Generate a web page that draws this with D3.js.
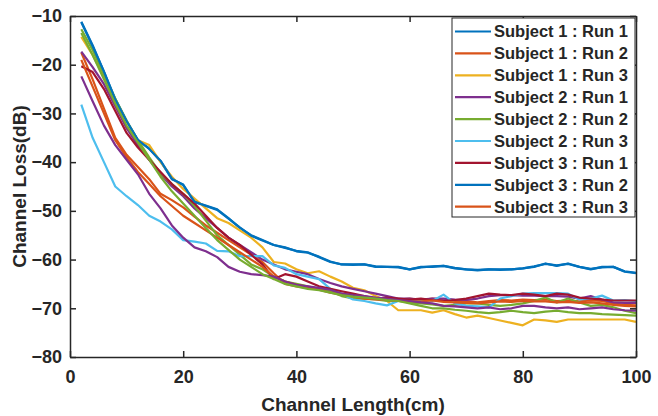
<!DOCTYPE html>
<html>
<head>
<meta charset="utf-8">
<script src="https://cdn.jsdelivr.net/npm/d3@7"></script>
<style>
  body { margin: 0; background: #fff; }
  svg { display: block; }
  text { font-family: "Liberation Sans", Arial, sans-serif; font-weight: bold; fill: #262626; }
</style>
</head>
<body>
<script>
// channel length (cm), sampled every 2 cm
var lengths = d3.range(2, 101, 2);

var xTicks = [0, 20, 40, 60, 80, 100],
    yTicks = [-10, -20, -30, -40, -50, -60, -70, -80];

// loss in dB
var s1r1 = [-11.2,-16,-21.5,-27,-31.5,-35.5,-37.2,-39.8,-43.5,-44.6,
            -48.2,-48.9,-49.7,-51.5,-53.5,-55,-56,-57,-57.6,-58.2,
            -58.5,-59.5,-60.5,-61,-61,-61,-61.5,-61.5,-61.5,-62,
            -61.5,-61.5,-61.3,-61.8,-62,-62.2,-62,-62,-62,-61.8,
            -61.5,-60.8,-61.3,-60.8,-61.5,-62,-61.5,-61.5,-62.5,-62.8];
var s1r2 = [-17.5,-23,-29,-35,-38.5,-41,-43.5,-46.5,-47.8,-49.3,
            -51.2,-53,-54.5,-56,-57.5,-59,-60.5,-62.8,-65,-65.5,
            -65.8,-66,-66.5,-67,-67.3,-67.8,-68,-68,-68.2,-68,
            -68.3,-68,-68.3,-68.5,-68.5,-68.8,-68.5,-68.3,-68.4,-68.2,
            -68.3,-68.2,-68.5,-68.4,-68.6,-68.4,-68.5,-69,-69.3,-69.4];
var s1r3 = [-14.3,-18,-22.5,-27.5,-33,-35.5,-36.5,-40,-43,-45.5,
            -47.5,-49.5,-51.5,-52.5,-54,-55.5,-57.5,-60.5,-60.8,-62,
            -62.8,-62.4,-63.5,-64.5,-65.8,-66.3,-67.5,-68.5,-70.4,-70.4,
            -70.4,-70.9,-70.4,-71.2,-71.9,-71.5,-72,-72.5,-73,-73.5,
            -72.3,-72.5,-72.8,-72.3,-72.3,-72.3,-72.3,-72.3,-72.3,-72.8];
var s2r1 = [-17.3,-20.5,-24,-28.5,-33,-36.5,-39.5,-42.5,-45,-47,
            -49.5,-51.5,-53.5,-55.5,-57,-58.5,-60,-61,-62,-62.5,
            -63,-64,-64.8,-65.5,-66,-66.5,-67,-67.5,-68,-68,
            -68.2,-68,-68,-68.2,-68.3,-68,-67.5,-67.3,-67.3,-67.4,
            -67.4,-67.5,-67.5,-67.6,-68,-67.5,-68.2,-68.8,-68.9,-68.9];
var s2r2 = [-12.7,-17,-22,-27,-31.5,-35.5,-39,-42.3,-44.5,-46.5,
            -49,-52,-55,-57,-59,-61,-62,-63.5,-64.5,-65,
            -65.5,-66,-66.5,-67.5,-68,-68,-68.2,-68.5,-68.5,-68.8,
            -69,-69.2,-69.5,-69.3,-69,-69,-69.3,-69.5,-69.3,-69,
            -68.5,-67.8,-68.8,-68,-68.8,-69.5,-69.3,-69.8,-70.5,-71];
var s2r3 = [-28.2,-35,-40,-45,-47,-48.8,-51,-52.2,-53.8,-56,
            -56.3,-56.7,-58.2,-58.3,-59.3,-59.3,-59.3,-61.2,-61.7,-63,
            -63.5,-64,-66,-67,-68.2,-68.5,-69,-69.4,-68.5,-68.3,
            -68.3,-68.5,-67.2,-69,-69.5,-69.6,-69.8,-68,-67.5,-67,
            -66.9,-66.9,-66.9,-67,-68.2,-68,-67.4,-68.4,-68.3,-68.5];
var s3r1 = [-20.3,-21.5,-25,-29.5,-34,-37,-39.5,-42,-44.5,-46.5,
            -48.5,-51,-53.5,-55.5,-57,-59,-61,-64,-63,-63.5,
            -64.5,-65.5,-66,-66.5,-67,-67.5,-68,-67.8,-68,-68.2,
            -68,-68.3,-68.5,-68.3,-68,-67.5,-67,-67.2,-67.3,-67,
            -67.2,-67.5,-67,-67.2,-67.8,-68,-68.2,-68.4,-68.4,-68.4];
var s3r2 = [-11.3,-16.2,-21.4,-27.2,-31.6,-35.4,-37.3,-39.7,-43.4,-44.7,
            -48.1,-49,-49.8,-51.6,-53.4,-55.1,-56.1,-57,-57.5,-58.3,
            -58.6,-59.4,-60.4,-61,-61.1,-61,-61.4,-61.5,-61.6,-62,
            -61.6,-61.4,-61.3,-61.7,-62,-62.1,-62,-62.1,-62,-61.8,
            -61.4,-60.9,-61.2,-60.9,-61.5,-61.9,-61.6,-61.5,-62.4,-62.7];
var s3r3 = [-19,-24.5,-30,-35.5,-39,-42,-44.5,-47,-49,-51,
            -52.5,-54,-55.5,-57,-58.5,-60,-61.5,-63.5,-64.5,-65.2,
            -65.6,-66.2,-66.8,-67.2,-67.6,-68,-68.2,-68.3,-68.5,-68.5,
            -68.6,-68.4,-68.7,-68.8,-68.9,-69,-68.8,-68.6,-68.7,-68.5,
            -68.6,-68.6,-68.8,-68.7,-68.9,-68.8,-69,-69.3,-69.5,-69.6];
// two further traces that carry no legend entry
var extraA = [-22.4,-27.5,-32.5,-36.5,-39.5,-42.5,-46.5,-49.5,-53,-55.5,
              -57.5,-58.3,-59.5,-61.5,-62.5,-63,-63.2,-63.5,-64.5,-65.2,
              -65.5,-65.8,-66.2,-67,-67.3,-67.5,-67.8,-68,-68.3,-68.5,
              -68.8,-69,-69.5,-69.6,-69.8,-70,-69.8,-70.2,-70,-69.5,
              -69.5,-69.8,-70,-69.8,-70.2,-70,-69.8,-70.2,-70.4,-70.5];
var extraB = [-13.5,-18,-23,-28,-32.5,-36,-39.5,-43,-46,-48.5,
              -51,-53.5,-56,-58,-60,-61.5,-63,-64,-65,-65.5,
              -66,-66.3,-66.8,-67.3,-67.6,-67.8,-68,-68.3,-68.5,-69,
              -69.5,-70,-70,-70.3,-70.5,-70.8,-71,-70.8,-70.5,-70.8,
              -71,-70.7,-70.5,-70.8,-71,-71,-71.2,-71.3,-71.4,-71.5];

var names = ["Subject 1 : Run 1", "Subject 1 : Run 2", "Subject 1 : Run 3",
             "Subject 2 : Run 1", "Subject 2 : Run 2", "Subject 2 : Run 3",
             "Subject 3 : Run 1", "Subject 3 : Run 2", "Subject 3 : Run 3"];
var series = [s1r1, s1r2, s1r3, s2r1, s2r2, s2r3, s3r1, s3r2, s3r3, extraA, extraB];
var colors = ["#0072BD", "#D95319", "#EDB120", "#7E2F8E", "#77AC30",
              "#4DBEEE", "#A2142F", "#0072BD", "#D95319", "#7E2F8E", "#77AC30"];

var svg = d3.select("body").append("svg"),
    margin = {top: 16, right: 22, bottom: 59, left: 70},
    width = 658 - margin.left - margin.right,
    height = 416 - margin.top - margin.bottom,
    g = svg.append("g").attr("transform", "translate(" + margin.left + "," + margin.top + ")");

svg.attr("width", 658).attr("height", 416);

var x = d3.scaleLinear().domain([0, 100]).range([0, width]),
    y = d3.scaleLinear().domain([-80, -10]).range([height, 0]);

var line = d3.line()
    .x(function(d, i) { return x(lengths[i]); })
    .y(function(d) { return y(d); });

// lines first, axes on top
g.selectAll(".trace")
  .data(series)
  .enter().append("path")
    .attr("class", "trace")
    .attr("fill", "none")
    .attr("stroke-width", 2.2)
    .attr("stroke-linejoin", "round")
    .attr("stroke", function(d, i) { return colors[i]; })
    .attr("d", line);

function styleAxis(sel) {
  sel.selectAll("path").attr("stroke", "#262626").attr("stroke-width", 1.5);
  sel.selectAll("line").attr("stroke", "#262626").attr("stroke-width", 1.5);
  sel.selectAll("text").style("font-size", "18px").attr("fill", "#262626");
}

g.append("g")
    .attr("transform", "translate(0," + height + ")")
    .call(d3.axisBottom(x).tickValues(xTicks).tickSize(-6).tickSizeOuter(0).tickPadding(13))
    .call(styleAxis);

g.append("g")
    .call(d3.axisTop(x).tickValues(xTicks).tickSize(-6).tickSizeOuter(0).tickFormat(""))
    .call(styleAxis);

g.append("g")
    .call(d3.axisLeft(y).tickValues(yTicks).tickSize(-6).tickSizeOuter(0).tickPadding(8))
    .call(styleAxis);

g.append("g")
    .attr("transform", "translate(" + width + ",0)")
    .call(d3.axisRight(y).tickValues(yTicks).tickSize(-6).tickSizeOuter(0).tickFormat(""))
    .call(styleAxis);

g.append("text")
    .attr("x", width / 2)
    .attr("y", height + 54)
    .attr("text-anchor", "middle")
    .style("font-size", "19px")
    .text("Channel Length(cm)");

g.append("text")
    .attr("transform", "rotate(-90)")
    .attr("x", -height / 2)
    .attr("y", -44)
    .attr("text-anchor", "middle")
    .style("font-size", "19px")
    .text("Channel Loss(dB)");

// legend
var legend = svg.append("g").attr("transform", "translate(452,18)");

legend.append("rect")
    .attr("width", 183)
    .attr("height", 199)
    .attr("fill", "#fff")
    .attr("stroke", "#262626")
    .attr("stroke-width", 1);

var item = legend.selectAll(".item")
  .data(names)
  .enter().append("g")
    .attr("class", "item")
    .attr("transform", function(d, i) { return "translate(0," + (13.5 + i * 21.9) + ")"; });

item.append("line")
    .attr("x1", 3).attr("x2", 39)
    .attr("stroke-width", 2.2)
    .attr("stroke", function(d, i) { return colors[i]; });

item.append("text")
    .attr("x", 42)
    .attr("dy", "0.36em")
    .style("font-size", "16.5px")
    .text(function(d) { return d; });
</script>
</body>
</html>
